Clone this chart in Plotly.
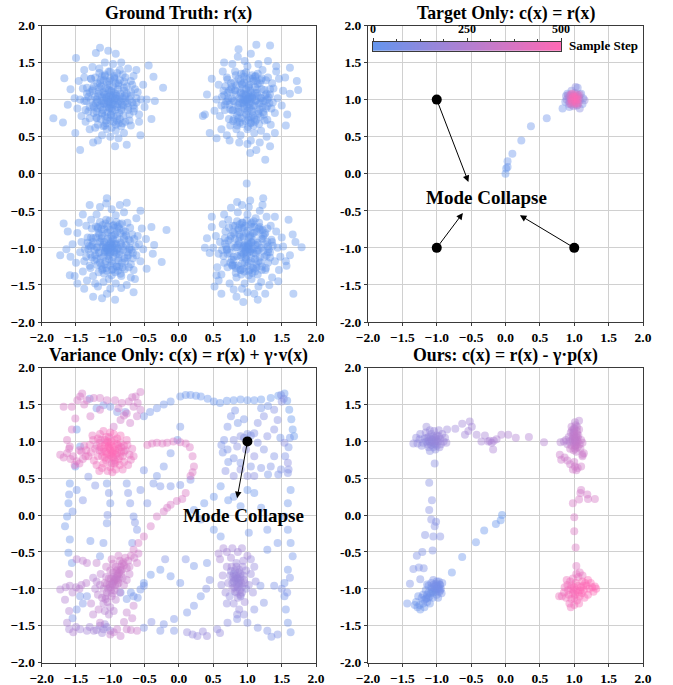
import plotly.graph_objects as go

# ---------------- Ground truth samples (x, y) ----------------
GT_TL = [(-1.00,1.00),(-0.92,1.08),(-1.10,0.95),(-0.85,0.97),(-1.05,1.15),(-0.97,0.85),(-1.18,1.05),(-0.80,1.12),(-1.12,0.82),(-0.90,0.78),
(-1.25,0.92),(-1.02,1.25),(-0.75,0.95),(-1.30,1.10),(-0.88,1.22),(-1.15,1.22),(-0.95,0.70),(-1.20,0.75),(-0.70,1.05),(-1.35,0.98),
(-1.08,0.65),(-0.82,0.68),(-0.65,0.88),(-1.28,1.28),(-0.78,1.30),(-1.00,1.38),(-1.40,1.15),(-0.60,1.10),(-1.22,0.62),(-0.92,0.58),
(-1.06,1.04),(-0.96,0.94),(-1.14,0.90),(-0.86,1.04),(-1.02,0.88),(-0.98,1.12),(-1.20,1.00),(-0.78,1.02),(-1.10,1.10),(-0.90,0.90),
(-1.04,0.76),(-0.84,0.86),(-1.16,1.16),(-0.94,1.30),(-1.32,0.84),(-0.72,0.80),(-1.24,1.18),(-0.68,1.20),(-1.08,1.32),(-0.86,1.40),
(-1.38,1.30),(-0.62,0.96),(-1.44,1.00),(-0.58,0.80),(-1.36,0.70),(-1.12,0.52),(-0.80,0.55),(-1.00,0.50),(-0.70,0.65),(-1.30,0.60),
(-1.16,1.42),(-0.96,1.48),(-1.26,1.44),(-0.74,1.42),(-0.66,1.32),(-1.48,0.88),(-1.42,0.78),(-0.55,1.00),(-0.52,1.20),(-0.58,0.70),
(-1.05,0.60),(-0.88,0.48),(-1.18,0.45),(-1.38,1.40),(-1.52,1.02),(-1.46,1.25),(-0.50,0.90),(-0.62,1.40),(-1.08,1.50),(-0.84,1.50),
(-1.83,0.75),(-1.69,0.69),(-1.44,0.32),(-1.67,1.29),(-1.50,1.56),(-0.23,1.16),(-0.37,1.31),(-0.93,0.37),(-0.76,0.39),(-1.15,1.70),
(-0.47,1.00),(-1.51,0.55),(-1.03,1.66),(-0.44,1.46),(-0.40,0.74),(-1.21,1.63),(-0.92,1.62),(-0.35,0.98),(-1.62,0.93),(-1.25,0.42),
(-0.56,0.52),(-1.58,1.14),(-1.01,0.97),(-0.93,1.02),(-1.09,1.07),(-0.89,0.94),(-1.13,0.98),(-0.99,0.79),(-0.81,0.92),(-1.19,0.88)]
GT_TL_CORE = [(-0.97,1.03),(-1.03,0.97),(-0.94,0.99),(-1.06,1.02),(-1.00,1.06),(-1.00,0.93),(-0.91,1.05),(-1.09,0.94),(-0.95,1.10),(-1.05,0.90),
(-0.88,0.98),(-1.12,1.03),(-0.98,0.88),(-1.02,1.13),(-0.85,1.08),(-1.15,0.92),(-0.93,0.86),(-1.07,1.16),(-0.83,0.93),(-1.17,1.08),
(-0.96,1.18),(-1.04,0.83),(-0.89,1.14),(-1.11,0.86),(-0.82,1.02),(-1.19,0.97),(-0.99,0.80),(-1.01,1.20),(-0.87,0.82),(-1.13,1.18),
(-0.78,0.97),(-1.22,1.04),(-0.92,1.22),(-1.08,0.78),(-0.80,1.16),(-1.20,0.84),(-0.95,0.76),(-1.05,1.24),(-0.76,1.08),(-1.24,0.90),
(-0.90,0.72),(-1.10,1.26),(-0.74,0.90),(-1.26,1.12),(-0.86,1.26),(-1.14,0.74),(-1.00,0.72),(-1.00,1.28),(-0.72,1.00),(-1.28,1.00),
(-0.98,0.96),(-1.02,1.04),(-0.96,1.06),(-1.04,0.94),(-0.93,0.93),(-1.07,1.07),(-0.90,1.01),(-1.10,0.99),(-0.99,1.11),(-1.01,0.89),
(-0.84,0.88),(-1.16,1.12),(-0.88,1.19),(-1.12,0.81),(-0.79,1.05),(-1.21,0.95),(-0.94,1.28),(-1.06,0.72),(-0.81,0.78),(-1.19,1.22)]
GT_TL_RING = [(-0.62,1.02),(-1.38,0.98),(-0.98,0.62),(-1.02,1.38),(-0.70,1.25),(-1.30,0.75),(-0.72,0.72),(-1.28,1.28),(-0.66,0.84),(-1.34,1.16),
(-0.84,0.64),(-1.16,1.36),(-0.82,1.34),(-1.18,0.66),(-0.64,1.14),(-1.36,0.86),(-0.90,1.36),(-1.10,0.64),(-0.76,1.18),(-1.24,0.82),
(-0.74,0.86),(-1.26,1.14),(-0.86,0.74),(-1.14,1.26),(-0.92,0.66),(-1.08,1.34),(-0.68,0.96),(-1.32,1.04),(-0.78,0.70),(-1.22,1.30),
(-0.80,1.24),(-1.20,0.76),(-0.70,1.10),(-1.30,0.90),(-0.88,0.68),(-1.12,1.32),(-0.94,1.32),(-1.06,0.68),(-0.66,0.92),(-1.34,1.08)]

GT_TR = [(1.00,1.00),(1.08,0.92),(0.94,1.08),(1.15,1.05),(0.88,0.95),(1.02,1.18),(0.96,0.82),(1.22,0.90),(0.82,1.12),(1.10,0.75),
(0.78,0.85),(1.28,1.08),(0.90,1.25),(1.18,1.22),(1.05,0.68),(0.72,1.02),(1.32,0.95),(0.85,0.70),(1.12,1.32),(0.95,1.35),
(0.68,1.18),(1.38,1.15),(1.25,0.72),(0.75,0.65),(1.00,0.60),(1.30,1.30),(0.70,1.30),(1.40,0.82),(0.62,0.92),(1.20,0.58),
(1.04,1.04),(0.94,0.96),(1.12,0.98),(0.90,1.10),(1.06,0.86),(0.98,1.14),(1.20,1.02),(0.80,0.98),(1.14,1.14),(0.86,0.84),
(1.02,0.76),(1.16,0.84),(0.92,1.20),(1.08,1.28),(0.76,1.14),(1.26,0.98),(0.84,0.60),(1.36,1.22),(0.66,1.06),(1.44,1.02),
(1.10,0.55),(0.90,0.52),(1.22,1.40),(0.82,1.38),(0.60,0.78),(1.46,1.28),(0.58,1.20),(1.00,1.45),(1.34,0.66),(0.70,0.52),
(0.96,1.52),(1.16,1.48),(0.78,1.48),(1.42,1.38),(1.50,0.92),(0.55,1.00),(1.05,0.45),(0.88,0.42),(1.28,0.50),(0.64,1.38),
(1.52,1.12),(0.52,0.85),(1.40,0.55),(1.18,0.42),(0.74,0.45),(1.30,1.52),(0.62,0.60),(1.55,1.30),(1.00,0.40),(0.86,1.58),
(0.41,1.07),(0.45,0.55),(0.55,0.48),(1.04,0.28),(1.13,0.32),(1.26,0.19),(1.33,0.37),(1.72,1.25),(1.74,1.13),(1.62,1.43),
(1.13,1.74),(1.33,1.73),(0.87,1.68),(0.38,0.80),(0.35,0.78),(1.58,0.80),(1.62,1.08),(1.42,1.45),(0.48,1.28),(1.05,1.62),
(0.66,1.50),(1.56,0.65),(0.99,0.97),(1.07,1.03),(0.91,1.01),(1.03,0.89),(0.97,1.07),(1.11,1.09),(0.87,0.89),(1.19,0.95)]
GT_TR_CORE = [(1.02,1.03),(0.97,0.98),(1.05,0.96),(0.94,1.04),(1.01,1.08),(0.99,0.91),(1.08,1.06),(0.92,0.95),(1.04,1.12),(0.96,0.88),
(1.12,0.99),(0.88,1.02),(1.00,0.85),(1.02,1.16),(1.14,1.09),(0.86,0.92),(1.07,0.84),(0.93,1.15),(1.17,0.94),(0.83,1.07),
(1.03,1.20),(0.98,0.80),(1.11,1.17),(0.89,0.83),(1.19,1.03),(0.81,0.97),(1.06,0.76),(0.95,1.23),(1.16,0.81),(0.84,1.19),
(1.23,0.98),(0.77,1.02),(1.09,1.25),(0.91,0.75),(1.21,1.14),(0.79,0.86),(1.01,0.73),(0.99,1.27),(1.26,1.06),(0.74,0.93),
(1.13,0.73),(0.87,1.28),(1.27,0.88),(0.73,1.12),(1.04,1.01),(0.96,1.00),(1.02,0.94),(0.98,1.06),(1.07,1.02),(0.93,0.99),
(1.05,1.09),(0.95,0.92),(1.10,0.92),(0.90,1.09),(1.00,1.00),(1.15,1.21),(0.85,0.79),(1.24,0.80),(0.76,1.22),(1.18,0.87),
(0.82,1.13),(1.08,0.79),(0.92,1.21),(1.29,1.00),(0.71,0.98),(1.03,1.29),(0.97,0.71),(1.20,1.26),(0.80,0.74),(1.11,0.70)]
GT_TR_RING = [(0.63,1.04),(1.37,0.96),(1.01,0.63),(0.98,1.37),(0.71,1.27),(1.29,0.73),(0.73,0.74),(1.27,1.26),(0.67,0.86),(1.33,1.14),
(0.85,0.65),(1.15,1.35),(0.83,1.33),(1.17,0.67),(0.65,1.12),(1.35,0.88),(0.91,1.35),(1.09,0.65),(0.77,1.17),(1.23,0.83),
(0.75,0.87),(1.25,1.13),(0.87,0.75),(1.13,1.25),(0.93,0.67),(1.07,1.33),(0.69,0.97),(1.31,1.03),(0.79,0.71),(1.21,1.29),
(0.81,1.23),(1.19,0.77),(0.71,1.09),(1.29,0.91),(0.89,0.69),(1.11,1.31),(0.95,1.31),(1.05,0.69),(0.67,0.93),(1.33,1.07)]

GT_BL = [(-1.00,-1.00),(-0.92,-0.94),(-1.08,-1.06),(-0.86,-1.05),(-1.15,-0.92),(-0.98,-1.18),(-1.05,-0.80),(-0.80,-0.88),(-1.22,-1.10),(-0.90,-1.25),
(-1.28,-0.86),(-0.72,-1.00),(-1.12,-1.30),(-0.96,-0.70),(-1.32,-1.02),(-0.78,-1.18),(-1.18,-0.72),(-0.68,-0.82),(-1.38,-1.18),(-0.84,-1.38),
(-1.06,-0.62),(-0.62,-1.10),(-1.25,-1.38),(-1.42,-0.92),(-0.75,-0.66),(-1.02,-1.42),(-1.35,-0.70),(-0.58,-0.95),(-0.66,-1.30),(-1.20,-0.55),
(-1.04,-1.04),(-0.94,-1.06),(-1.10,-0.96),(-0.96,-0.88),(-0.88,-1.14),(-1.14,-1.14),(-1.02,-0.90),(-0.82,-0.98),(-1.20,-1.00),(-0.98,-1.30),
(-1.08,-1.22),(-0.90,-0.78),(-1.26,-0.96),(-0.74,-1.10),(-1.16,-0.82),(-0.86,-0.68),(-1.30,-1.24),(-0.70,-1.22),(-1.44,-1.06),(-0.60,-0.84),
(-1.10,-1.46),(-0.92,-1.48),(-1.40,-1.32),(-1.48,-0.80),(-0.92,-0.56),(-1.28,-0.62),(-0.70,-1.40),(-0.56,-1.18),(-1.50,-1.20),(-0.80,-0.52),
(-1.15,-0.45),(-0.98,-0.48),(-1.34,-1.44),(-1.18,-1.52),(-0.84,-1.54),(-1.00,-1.55),(-0.52,-1.02),(-0.54,-0.74),(-1.55,-0.95),(-1.46,-0.66),
(-0.62,-0.60),(-0.64,-1.42),(-1.22,-1.48),(-1.52,-1.38),(-1.40,-0.55),(-0.48,-0.88),(-0.76,-1.50),(-1.06,-0.40),(-0.86,-0.42),(-1.58,-1.12),
(-1.73,-1.10),(-1.68,-0.67),(-1.59,-1.37),(-0.18,-0.76),(-0.25,-1.19),(-0.93,-1.70),(-1.25,-1.66),(-1.05,-0.33),(-0.76,-0.39),(-0.47,-1.28),
(-1.62,-0.78),(-1.30,-0.42),(-1.38,-1.55),(-0.36,-0.96),(-0.40,-0.72),(-0.66,-1.60),(-1.05,-1.62),(-0.38,-1.08),(-1.64,-1.02),(-1.12,-1.68),
(-0.56,-0.50),(-1.48,-1.48),(-0.99,-0.95),(-1.07,-1.01),(-0.91,-1.03),(-1.03,-1.11),(-0.95,-0.83),(-1.13,-0.87),(-0.85,-0.93),(-1.17,-1.07)]
GT_BL_CORE = [(-0.98,-1.02),(-1.03,-0.97),(-0.95,-1.05),(-1.06,-0.99),(-0.99,-0.92),(-1.01,-1.09),(-0.92,-0.96),(-1.08,-1.04),(-0.96,-1.12),(-1.04,-0.88),
(-0.89,-1.01),(-1.11,-0.98),(-1.02,-1.15),(-0.98,-0.84),(-0.86,-1.09),(-1.14,-0.91),(-0.93,-0.82),(-1.07,-1.18),(-0.84,-0.95),(-1.16,-1.06),
(-0.97,-1.21),(-1.03,-0.79),(-0.88,-1.17),(-1.12,-0.84),(-0.81,-1.03),(-1.19,-0.99),(-1.00,-0.76),(-1.00,-1.24),(-0.85,-0.80),(-1.15,-1.20),
(-0.77,-0.96),(-1.23,-1.03),(-0.91,-1.25),(-1.09,-0.75),(-0.79,-1.14),(-1.21,-0.86),(-0.94,-0.73),(-1.06,-1.27),(-0.75,-1.06),(-1.25,-0.92),
(-0.89,-0.71),(-1.11,-1.28),(-0.73,-0.89),(-1.27,-1.13),(-0.97,-0.97),(-1.03,-1.03),(-0.95,-0.94),(-1.05,-1.06),(-0.91,-1.08),(-1.09,-0.92),
(-1.00,-1.00),(-0.94,-1.00),(-1.06,-1.00),(-1.00,-0.94),(-1.00,-1.06),(-0.83,-1.20),(-1.17,-0.80),(-0.87,-0.74),(-1.13,-1.24),(-0.72,-1.02),
(-1.28,-0.98),(-0.96,-1.29),(-1.04,-0.71),(-0.80,-0.85),(-1.20,-1.15),(-0.90,-0.88),(-1.10,-1.12),(-0.82,-1.26),(-1.18,-0.74),(-0.78,-0.78)]
GT_BL_RING = [(-0.63,-0.98),(-1.37,-1.02),(-1.01,-0.63),(-0.98,-1.37),(-0.71,-0.73),(-1.29,-1.27),(-0.73,-1.26),(-1.27,-0.74),(-0.67,-1.14),(-1.33,-0.86),
(-0.85,-1.35),(-1.15,-0.65),(-0.83,-0.67),(-1.17,-1.33),(-0.65,-0.88),(-1.35,-1.12),(-0.91,-0.65),(-1.09,-1.35),(-0.77,-0.83),(-1.23,-1.17),
(-0.75,-1.13),(-1.25,-0.87),(-0.87,-1.25),(-1.13,-0.75),(-0.93,-1.33),(-1.07,-0.67),(-0.69,-1.03),(-1.31,-0.97),(-0.79,-1.29),(-1.21,-0.71),
(-0.81,-0.77),(-1.19,-1.23),(-0.71,-0.91),(-1.29,-1.09),(-0.89,-1.31),(-1.11,-0.69),(-0.95,-0.69),(-1.05,-1.31),(-0.67,-1.07),(-1.33,-0.93)]

GT_BR = [(1.00,-1.00),(1.06,-0.92),(0.94,-1.08),(1.14,-1.04),(0.86,-0.96),(1.02,-1.20),(0.98,-0.80),(1.22,-0.88),(0.80,-1.12),(1.10,-1.28),
(0.76,-0.84),(1.30,-1.06),(0.90,-1.30),(1.18,-0.72),(0.92,-0.66),(1.36,-0.92),(0.70,-1.02),(1.26,-1.30),(0.82,-0.70),(1.06,-1.42),
(0.66,-1.20),(1.40,-1.18),(1.12,-0.60),(0.72,-0.62),(0.96,-1.48),(1.34,-0.70),(0.60,-0.92),(1.20,-1.46),(0.62,-1.36),(1.00,-0.55),
(1.04,-1.04),(0.96,-0.96),(1.12,-0.96),(0.90,-1.10),(1.06,-1.14),(0.94,-0.86),(1.20,-1.00),(0.82,-1.00),(1.16,-1.18),(0.88,-0.82),
(1.02,-1.32),(1.10,-0.80),(0.78,-1.24),(1.26,-0.80),(0.84,-1.40),(1.30,-1.20),(0.68,-0.78),(1.44,-1.00),(1.06,-0.66),(0.58,-1.08),
(1.16,-1.52),(0.92,-1.55),(1.42,-0.78),(0.64,-0.68),(1.48,-1.12),(1.00,-1.60),(0.54,-0.84),(1.36,-1.40),(0.74,-1.48),(0.86,-0.52),
(1.18,-0.50),(1.02,-0.45),(0.56,-1.26),(1.50,-0.86),(1.28,-0.58),(1.46,-1.30),(0.50,-1.00),(0.66,-0.55),(1.10,-1.62),(0.80,-1.56),
(1.32,-1.50),(1.52,-0.98),(0.92,-0.42),(1.22,-0.42),(0.48,-0.72),(1.40,-0.58),(0.58,-1.44),(1.56,-1.18),(0.76,-0.46),(1.26,-1.62),
(0.45,-1.07),(0.41,-0.87),(0.55,-1.37),(0.99,-0.13),(1.23,-0.33),(1.67,-1.62),(1.79,-0.99),(0.94,-1.73),(0.84,-1.66),(1.57,-1.24),
(1.60,-0.62),(1.66,-0.82),(0.48,-0.58),(0.52,-1.52),(1.04,-0.36),(0.85,-0.38),(1.45,-1.45),(1.62,-1.10),(0.38,-1.00),(1.15,-1.70),
(1.70,-0.92),(0.62,-1.62),(1.01,-0.95),(0.93,-1.01),(1.09,-1.07),(0.97,-1.13),(1.05,-0.85),(0.87,-0.91),(1.15,-0.93),(0.95,-0.73)]
GT_BR_CORE = [(1.01,-0.98),(0.97,-1.03),(1.04,-1.05),(0.95,-0.97),(1.06,-0.93),(0.99,-1.10),(1.09,-1.01),(0.91,-1.06),(1.02,-0.86),(0.98,-1.15),
(1.12,-1.08),(0.88,-0.94),(1.05,-1.18),(0.94,-0.84),(1.15,-0.96),(0.85,-1.11),(1.08,-0.80),(0.92,-1.21),(1.18,-1.13),(0.82,-0.88),
(1.00,-0.77),(1.00,-1.24),(1.20,-0.87),(0.80,-1.16),(1.13,-1.22),(0.87,-0.76),(1.23,-1.04),(0.77,-0.98),(1.07,-0.72),(0.93,-1.28),
(1.25,-0.82),(0.75,-1.20),(1.17,-0.74),(0.83,-1.27),(1.28,-1.10),(0.72,-0.90),(1.03,-1.30),(0.97,-0.70),(1.21,-1.25),(0.79,-0.79),
(1.02,-1.02),(0.98,-0.98),(1.03,-0.95),(0.97,-1.05),(1.06,-1.02),(0.94,-0.99),(1.00,-1.06),(1.00,-0.93),(1.09,-0.90),(0.91,-1.12),
(1.11,-1.15),(0.89,-0.85),(1.16,-1.03),(0.84,-0.99),(1.04,-0.83),(0.96,-1.20),(1.26,-0.95),(0.74,-1.07),(1.14,-0.78),(0.86,-1.24),
(1.19,-1.20),(0.81,-0.81),(1.08,-1.27),(0.92,-0.73),(1.30,-0.98),(0.70,-1.03),(1.22,-0.76),(0.78,-1.23),(1.10,-0.71),(0.90,-1.30)]
GT_BR_RING = [(1.37,-0.97),(0.63,-1.03),(0.99,-0.63),(1.02,-1.37),(1.29,-0.74),(0.71,-1.26),(1.27,-1.27),(0.73,-0.73),(1.33,-1.13),(0.67,-0.87),
(1.15,-1.36),(0.85,-0.64),(1.17,-0.66),(0.83,-1.34),(1.35,-0.89),(0.65,-1.11),(1.09,-0.64),(0.91,-1.36),(1.23,-0.84),(0.77,-1.16),
(1.25,-1.12),(0.75,-0.88),(1.13,-1.26),(0.87,-0.74),(1.07,-1.34),(0.93,-0.66),(1.31,-1.02),(0.69,-0.98),(1.21,-1.30),(0.79,-0.70),
(1.19,-0.76),(0.81,-1.24),(1.29,-0.92),(0.71,-1.08),(1.11,-1.32),(0.89,-0.68),(1.05,-0.68),(0.95,-1.32),(1.33,-1.06),(0.67,-0.94)]

# ---------------- Target only: (x, y, sample step) ----------------
TGT_TRAIL = [(0.00,0.00,2),(0.01,0.07,5),(0.03,0.09,8),(0.03,0.17,12),(0.10,0.27,16),(0.23,0.45,20),(0.37,0.64,25),(0.60,0.75,30),(0.83,0.88,36)]
TGT_CLUSTER = [(0.87,0.97,45),(0.90,1.08,50),(1.10,1.08,55),(1.12,0.94,60),(0.93,0.90,70),(1.05,1.16,80),(0.88,1.05,90),(1.13,1.02,100),
(0.96,1.12,110),(1.08,0.88,120),(1.02,1.17,130),(0.92,0.94,140),(1.15,0.99,150),(0.89,1.00,160),
(1.00,1.00,400),(0.98,1.02,420),(1.02,0.98,440),(1.03,1.04,460),(0.97,0.97,480),(1.05,1.00,500),(0.95,1.01,380),(1.00,1.06,360),
(1.00,0.94,340),(1.06,0.95,320),(0.94,1.05,300),(1.04,1.07,280),(0.96,0.93,260),(1.07,1.03,240),(0.93,0.98,220),(1.01,1.09,210),
(0.99,0.91,200),(1.08,0.99,190),(0.92,1.03,180),(1.04,0.92,170),(0.97,1.08,450),(1.03,0.95,470),(0.99,1.04,490),(1.02,1.02,430),
(0.96,1.00,410),(1.06,1.06,390),(0.94,0.95,370),(1.05,0.93,350),(0.95,1.07,330),(1.01,0.97,310),(0.98,0.99,290),(1.03,1.01,270),
(1.08,1.07,250),(0.91,1.06,230)]
TGT_MODES = [(-1.0,1.0),(-1.0,-1.0),(1.0,-1.0)]
TGT_ARROW_HEADS = [(-0.54,-0.11),(-0.62,-0.53),(0.21,-0.56)]
TGT_TEXT_POS = (-0.28, -0.32)

# ---------------- Variance only: (x, y, sample step) ----------------
VAR_TOP_ARC = [(-0.51,1.34,40),(-0.42,1.40,37),(-0.32,1.45,34),(-0.22,1.50,31),(-0.12,1.54,28),(0.02,1.61,25),(0.10,1.63,23),(0.17,1.63,21),
(0.25,1.62,19),(0.32,1.61,17),(0.42,1.58,15),(0.51,1.54,13),(0.60,1.52,11),(0.70,1.55,10),(0.80,1.56,9),(0.90,1.57,8),(1.00,1.56,7),
(1.10,1.56,6),(1.20,1.57,5),(1.34,1.59,5),(1.45,1.62,4),(1.54,1.65,3),(1.58,1.55,3),(1.61,1.43,2),(1.64,1.30,2),(1.66,1.16,1),(1.68,1.07,1)]
VAR_UR_LOOPS = [(0.76,1.34,60),(0.71,1.20,62),(0.66,1.02,64),(0.71,0.89,66),(0.80,0.77,68),(0.90,0.71,70),(1.05,0.66,72),(1.20,0.64,74),
(1.34,0.66,76),(1.49,0.62,78),(1.59,0.57,80),(1.39,0.80,82),(1.24,0.89,84),(1.15,0.98,86),(1.10,1.11,88),(1.15,1.25,90),(1.24,1.34,92),
(1.39,1.43,94),(1.44,1.29,96),(1.39,1.16,98),(1.29,1.07,100),(0.90,1.07,102),(0.80,1.02,104),(0.85,0.93,106),(1.00,0.53,108),(1.10,0.53,110),
(0.80,0.53,112),(1.59,0.71,114),(1.54,0.98,116),(1.10,0.80,118),(0.98,0.89,120),(1.49,1.63,80),(1.53,1.58,90),(1.50,1.54,100),(0.95,1.05,95),
(1.00,1.10,85),(1.05,1.08,75),(0.62,0.95,65),(0.64,0.85,55),(0.72,0.72,50),(1.30,0.55,45),(1.45,0.55,60),(1.55,0.80,70),(1.60,0.92,50),
(1.48,1.05,40),(0.86,1.25,45),(0.95,1.30,50),(0.82,1.42,55),(1.20,1.45,35),(1.30,1.48,40),(1.60,0.62,90),(1.62,1.05,30),(0.68,0.60,100),(0.90,0.62,110)]
VAR_RIGHT = [(1.63,0.34,20),(1.59,0.16,22),(1.54,-0.02,24),(1.59,-0.20,26),(1.63,-0.38,28),(1.66,-0.56,30),(1.59,-0.74,32),(1.54,-0.92,34),
(1.54,-1.10,36),(1.56,-1.28,38),(1.59,-1.46,40),(1.63,-1.59,42),(1.62,-0.85,60),(1.50,-1.00,70),(1.58,-1.05,65)]
VAR_MID = [(1.00,0.34,10),(0.80,0.25,12),(0.90,0.12,14),(0.61,0.39,16),(0.51,0.25,18),(0.37,0.16,20),(0.22,0.07,22),(0.32,-0.06,24),
(0.51,-0.20,26),(0.61,-0.29,28),(1.02,-0.24,30),(1.29,-0.20,32),(1.44,-0.38,34),(1.29,-0.47,36),(0.02,1.20,40),(-0.02,1.02,42),
(-0.12,0.84,44),(-0.22,0.66,46),(-0.32,0.53,48),(-0.37,0.43,50),(-0.27,0.39,52),(-0.12,0.39,54),(0.02,0.41,56),(0.17,0.48,58),
(0.72,0.20,15),(1.10,0.30,20),(1.20,0.10,25)]
VAR_LEFT = [(-1.49,1.16,10),(-1.44,0.93,12),(-1.51,0.66,14),(-1.59,0.43,16),(-1.61,0.16,18),(-1.63,-0.02,20),(-1.66,-0.15,22),(-1.59,-0.33,24),
(-1.61,-0.51,26),(-1.56,-0.65,28),(-1.49,0.34,30),(-1.29,-0.35,32),(-1.60,0.28,34),(-1.55,0.05,36),(-1.05,0.43,40),(-1.00,0.16,42),
(-1.05,-0.11,44),(-1.10,-0.38,46),(-1.15,-0.56,48),(-0.76,0.43,50),(-0.71,0.16,52),(-0.66,-0.02,54),(-0.61,-0.20,56),(-0.68,-0.38,58),
(-0.51,0.61,60),(-0.56,0.34,62),(-0.46,0.16,64),(-1.02,0.30,66),(-1.04,0.00,68),(-0.74,0.30,70),(-0.64,-0.10,72),(-1.32,0.52,74),
(-1.22,0.40,76),(-1.40,0.20,78)]
VAR_LOW_MID = [(-0.51,-0.92,20),(-0.41,-0.81,24),(-0.27,-0.74,28),(-0.12,-0.83,32),(0.02,-0.92,36),(0.22,-0.69,40),(0.41,-0.65,44),
(0.32,-1.10,48),(0.22,-1.23,52),(0.12,-1.32,56),(-0.07,-1.41,60),(-0.22,-1.48,64),(-0.07,-1.57,68),(-0.27,-1.57,72),(-0.51,-1.53,76),
(0.10,-0.60,80),(-0.20,-0.60,84),(0.40,-1.00,88),(0.45,-0.88,92),(-0.40,-1.45,96)]
VAR_BOTTOM = [(0.12,-1.59,150),(0.27,-1.64,160),(0.41,-1.64,165),(0.56,-1.55,140),(0.71,-1.46,120),(0.85,-1.41,100),(1.00,-1.46,90),
(1.15,-1.53,85),(1.29,-1.57,80),(1.44,-1.62,75),(0.90,-1.10,110),(1.19,-0.96,70),(1.39,-0.96,65),(1.10,-1.28,95),(1.24,-1.19,85),
(0.20,-1.62,155),(0.35,-1.58,160),(0.60,-1.60,145),(1.35,-1.65,70)]
VAR_BL_BLUE = [(-0.66,-1.10,40),(-0.56,-1.01,42),(-0.76,-1.14,44),(-0.85,-1.05,46),(-0.51,-0.96,48),(-1.44,-1.10,50),(-1.34,-1.10,52),
(-1.49,-1.28,54),(-0.70,-1.05,30),(-0.60,-1.12,35),(-1.55,-1.40,60),(-1.40,-1.20,58)]
VAR_TL_BLUE = [(-1.10,1.49,60),(-1.00,1.47,65),(-0.90,1.40,70),(-1.20,1.45,55),(-0.78,1.40,75),(-1.30,1.58,50)]
VAR_BR_CLUSTER = [(0.85,-0.85,170),(0.90,-0.80,175),(0.80,-0.90,180),(0.88,-0.95,165),(0.82,-0.75,160),(0.95,-0.88,185),(0.78,-1.00,190),
(0.92,-1.05,172),(0.75,-0.82,168),(0.98,-0.75,178),(0.86,-1.12,182),(0.72,-0.92,176),(1.02,-0.95,166),(0.84,-0.65,174),(0.94,-0.62,188),
(0.70,-0.70,192),(0.80,-1.20,158),(1.05,-0.80,162),(0.68,-1.05,170),(0.96,-1.18,184),(0.88,-1.28,150),(0.76,-0.58,196),(1.00,-0.55,200),
(0.64,-0.82,186),(1.08,-1.05,154),(0.86,-0.50,198),(0.70,-0.50,205),(0.60,-0.60,210),(0.58,-0.52,215),(0.65,-0.45,208),(0.78,-0.45,202),
(0.92,-0.45,195),(1.05,-0.60,160),(1.10,-0.70,150),(0.83,-0.88,171),(0.87,-0.78,173),(0.81,-0.98,177),(0.91,-0.92,179),(0.79,-0.84,181),
(0.89,-1.02,183),(0.84,-1.05,185),(0.93,-0.70,187),(0.77,-0.70,189),(0.74,-1.10,140),(0.98,-1.00,145),(1.12,-0.90,135),(0.62,-0.95,150),
(0.85,-1.35,130),(0.95,-1.35,128),(0.70,-1.20,138),
(0.86,-0.86,171),(0.83,-0.82,169),(0.89,-0.88,173),(0.84,-0.94,175),(0.90,-0.84,177),(0.81,-0.86,167),(0.87,-0.92,179),(0.92,-0.98,181),
(0.80,-0.80,165),(0.86,-0.98,183),(0.94,-0.82,185),(0.78,-0.92,163),(0.88,-0.74,187),(0.82,-1.04,161),(0.90,-1.08,189),(0.96,-0.92,191),
(0.76,-0.76,159),(0.84,-0.70,193)]
VAR_BL_CLUSTER = [(-0.95,-0.90,300),(-0.90,-0.82,305),(-1.00,-0.98,310),(-0.88,-0.92,315),(-1.02,-0.86,320),(-0.85,-0.75,325),(-0.92,-0.70,330),
(-1.05,-1.05,295),(-0.98,-1.10,290),(-1.10,-1.00,285),(-0.80,-0.68,335),(-0.82,-0.85,302),(-0.96,-0.78,308),(-1.08,-0.92,312),(-0.86,-0.62,340),
(-0.78,-0.58,345),(-1.12,-1.12,280),(-1.04,-1.18,275),(-0.94,-1.02,298),(-0.90,-0.95,304),(-0.76,-0.72,318),(-0.74,-0.62,328),(-1.15,-0.95,270),
(-1.00,-0.75,322),(-0.84,-0.80,316),(-0.93,-0.86,306),(-0.97,-0.94,296),(-1.06,-0.84,292),(-0.89,-0.74,326),(-0.83,-0.66,332),(-1.10,-1.20,265),
(-1.18,-1.08,268),(-0.72,-0.80,310),(-0.80,-0.95,300),(-1.00,-1.25,260),(-0.92,-1.15,282),(-1.20,-0.90,262),(-0.70,-0.55,350),(-0.88,-0.55,338),
(-1.06,-0.70,314),(-0.76,-0.88,306),(-1.14,-0.80,288),(-0.96,-0.66,334),(-1.02,-1.35,255),(-0.95,-1.30,258),(-1.08,-1.30,252),(-0.86,-1.05,294),
(-1.22,-1.00,250),(-1.25,-0.85,248),(-0.98,-0.60,342),
(-0.94,-0.88,303),(-0.91,-0.86,307),(-0.97,-0.92,311),(-0.89,-0.80,317),(-1.01,-0.94,297),(-0.87,-0.78,321),(-0.99,-1.02,293),(-0.93,-0.96,299),
(-0.85,-0.70,327),(-1.03,-1.00,289),(-0.95,-0.84,309),(-0.89,-0.88,313),(-1.05,-0.94,287),(-0.83,-0.74,323),(-0.97,-1.06,283),(-0.91,-0.76,319),
(-1.07,-1.10,279),(-0.81,-0.64,337),(-0.99,-0.86,301),(-0.87,-0.86,305)]
VAR_BL_TRAIL = [(-1.73,-1.01,250),(-1.65,-0.98,255),(-1.59,-0.96,260),(-1.50,-0.98,265),(-1.42,-0.95,270),(-1.35,-0.92,275),(-1.49,-0.60,280),
(-1.40,-0.62,285),(-1.34,-0.65,290),(-1.20,-0.65,295),(-1.63,-1.46,240),(-1.54,-1.59,245),(-1.15,-1.46,300),(-0.95,-1.59,305),(-0.85,-1.64,310),
(-0.76,-1.55,315),(-0.61,-1.57,320),(-1.07,-1.14,285),(-1.17,-1.28,290),(-0.76,-1.32,300),(-0.66,-1.23,305),(-0.61,-0.65,330),(-0.59,-0.52,335),
(-0.70,-1.56,312),(-0.90,-1.55,308),(-1.00,-1.62,302),(-0.80,-1.45,298),(-1.60,-0.80,262),(-1.66,-1.15,248),(-1.60,-1.30,244),(-1.28,-1.20,278),
(-1.25,-1.35,282),(-0.68,-1.40,306),(-0.72,-0.70,325),(-0.65,-0.58,332),(-1.45,-1.00,268),(-1.55,-1.05,258)]
VAR_LAV_BOTTOM = [(-1.10,-1.55,180),(-1.15,-1.50,185),(-1.05,-1.52,175),(-1.12,-1.60,190),(-1.00,-1.57,170),(-1.20,-1.56,195),(-1.44,-1.55,200),
(-1.34,-1.57,205),(-1.24,-1.57,210),(-1.30,-1.52,200),(-1.50,-1.52,215),(-1.60,-1.55,220),(-1.08,-1.48,178)]
VAR_DIAG = [(-0.46,0.95,400),(-0.39,0.97,398),(-0.32,0.98,396),(-0.24,0.97,394),(-0.17,0.98,392),(-0.08,1.00,390),(0.02,0.99,388),(0.10,0.97,386),
(0.16,0.92,384),(0.20,0.80,382),(0.22,0.66,380),(0.20,0.58,378),(0.17,0.53,376),(0.10,0.30,374),(0.05,0.22,372),(-0.03,0.19,370),
(-0.12,0.14,368),(-0.17,0.10,366),(-0.22,0.05,364),(-0.32,-0.02,362),(-0.41,-0.15,360),(-0.51,-0.29,358),(-0.59,-0.38,356),(-0.66,-0.47,354)]
VAR_TL_TRAIL = [(-1.73,0.82,380),(-1.68,0.78,382),(-1.63,0.84,384),(-1.58,0.76,386),(-1.54,0.80,388),(-1.49,0.73,390),(-1.52,0.68,392),
(-1.45,0.70,394),(-1.40,0.76,396),(-1.59,0.93,378),(-1.63,1.02,376),(-1.60,0.90,374),(-1.56,1.16,372),(-1.51,1.31,370),(-1.56,1.47,368),
(-1.68,1.47,366),(-1.44,1.61,364),(-1.41,1.65,362),(-1.34,1.56,360),(-1.24,1.59,358),(-1.15,1.59,356),(-1.05,1.56,354),(-0.93,1.56,352),
(-0.83,1.52,350),(-0.73,1.54,348),(-0.63,1.61,346),(-0.56,1.67,344),(-0.66,1.47,342),(-0.76,1.38,340),(-0.85,1.29,338),(-0.95,1.20,336),
(-0.71,1.25,334),(-0.61,1.34,332),(-0.56,1.43,330),(-1.15,1.43,360),(-1.29,1.34,365),(-1.38,1.50,362),(-1.48,1.56,366),(-0.88,1.45,345),
(-0.80,1.35,340),(-1.42,0.86,398),(-1.36,0.80,400),(-1.38,0.94,402),(-1.45,0.88,404),(-0.60,1.52,346),(-0.68,1.60,348)]
VAR_TL_CLUSTER = [(-1.00,0.88,480),(-0.95,0.92,485),(-1.05,0.84,490),(-0.92,0.82,470),(-1.08,0.95,495),(-0.98,1.00,500),(-1.12,0.86,475),
(-0.88,0.90,465),(-1.02,0.76,460),(-0.94,0.74,455),(-1.15,0.98,450),(-0.85,0.98,445),(-1.18,0.80,440),(-0.82,0.80,435),(-1.06,1.06,488),
(-0.90,1.04,482),(-1.22,0.90,430),(-0.78,0.88,425),(-1.10,0.70,468),(-0.86,0.68,462),(-1.25,1.02,428),(-0.75,0.95,432),(-1.00,0.65,458),
(-1.15,1.10,442),(-0.95,1.10,478),(-0.80,0.72,436),(-1.28,0.85,424),(-0.72,0.82,426),(-1.20,0.68,438),(-0.92,0.62,452),(-1.04,0.60,448),
(-1.30,0.95,422),(-0.70,0.75,420),(-1.10,1.14,444),(-0.85,1.08,466),(-1.24,0.74,434),(-0.76,1.02,440),(-0.98,0.80,492),(-1.02,0.94,498),
(-0.96,0.86,496),(-1.08,0.78,486),(-0.90,0.96,494),(-1.14,0.92,476),(-0.84,0.86,472),(-1.04,1.00,499),(-0.94,0.70,464),(-1.18,1.04,454),
(-0.80,0.94,456),(-1.12,0.64,446),(-0.88,0.76,474),(-1.32,0.80,418),(-0.68,0.90,416),(-1.00,1.12,470),(-1.26,1.08,426),(-0.74,0.68,430),
(-0.66,0.80,414),(-1.35,0.88,412),(-0.97,0.58,440),(-1.16,0.60,436),(-0.82,0.62,438),
(-1.00,0.90,497),(-0.97,0.84,493),(-1.03,0.92,489),(-0.93,0.88,481),(-1.07,0.86,477),(-0.99,0.96,473),(-1.01,0.82,469),(-0.90,0.84,461),
(-1.10,0.90,457),(-0.96,0.78,453),(-1.04,0.98,449),(-0.88,0.94,445),(-1.12,0.80,441),(-0.94,1.02,437),(-1.06,0.74,433),(-0.86,0.80,429),
(-1.14,1.02,425),(-0.92,0.72,421),(-1.08,1.02,417),(-0.84,0.92,413),(-1.16,0.88,411),(-0.98,0.70,409),(-1.02,1.06,407),(-0.80,0.86,405),(-1.20,0.94,403)]
VAR_MODE = (1.0, 1.0)
VAR_ARROW_HEAD = (0.85, 0.23)
VAR_TEXT_POS = (0.94, 0.0)

# ---------------- Ours: (x, y, sample step) ----------------
OURS_DIAG = [(-0.05,0.00,2),(-0.07,-0.07,5),(-0.14,-0.12,8),(-0.31,-0.21,11),(-0.43,-0.37,14),(-0.63,-0.57,17),(-0.78,-0.78,20)]
OURS_BL = [(-1.02,-1.02,40),(-1.05,-1.05,42),(-0.98,-0.98,44),(-1.00,-1.08,46),(-1.08,-0.98,48),(-0.95,-0.95,50),(-1.10,-1.10,38),
(-1.12,-1.05,36),(-0.96,-1.04,52),(-1.04,-0.94,54),(-1.15,-1.12,34),(-1.18,-1.15,32),(-0.92,-0.92,56),(-1.00,-0.90,58),(-1.06,-1.12,30),
(-1.20,-1.20,28),(-1.25,-1.22,26),(-1.28,-1.25,24),(-1.22,-1.12,30),(-1.14,-1.18,34),(-0.94,-1.00,60),(-1.08,-0.92,62),(-1.16,-1.02,40),
(-0.98,-1.12,44),(-1.30,-1.18,22),(-1.24,-1.28,24),(-1.18,-1.25,26),(-1.10,-1.20,28),(-1.02,-0.96,64),(-0.97,-0.90,66),(-1.12,-0.96,50),
(-0.93,-1.06,54),(-1.05,-0.88,68),(-1.20,-1.08,36),(-1.32,-1.22,25),(-1.43,-1.20,30),(-1.39,-0.93,70),(-1.24,-0.87,72),(-1.14,-0.94,46),(-1.27,-1.10,32),
(-1.03,-1.01,47),(-1.00,-1.00,49),(-1.06,-1.04,41),(-0.99,-0.96,53),(-1.09,-1.06,39),(-1.01,-1.04,45),(-0.97,-1.00,51),(-1.07,-1.00,43),
(-1.12,-1.12,35),(-1.04,-0.98,57),(-0.96,-0.94,59),(-1.14,-1.08,33),(-1.16,-1.14,31),(-0.95,-1.02,55),(-1.01,-0.93,61)]
OURS_UP = [(-1.34,-0.73,74),(-1.26,-0.71,76),(-1.19,-0.72,78),(-1.29,-0.55,80),(-1.21,-0.50,82),(-1.06,-0.48,84),(-1.17,-0.27,86),(-1.05,-0.29,88),
(-0.95,-0.29,90),(-1.03,-0.15,92),(-1.01,-0.09,94),(-1.08,-0.06,96),(-1.11,0.07,98),(-1.07,0.20,100),(-1.11,0.44,104),(-1.03,0.70,108)]
OURS_TL = [(-1.07,1.02,150),(-1.02,1.05,155),(-1.10,0.98,145),(-1.04,0.97,140),(-1.12,1.06,160),(-0.98,1.00,165),(-1.00,1.08,170),(-1.15,1.00,135),
(-1.08,1.10,158),(-0.95,1.04,172),(-1.18,1.04,130),(-1.05,0.92,125),(-0.94,0.96,168),(-1.12,0.92,128),(-1.20,0.98,132),(-1.00,0.94,146),
(-1.10,1.15,162),(-1.04,1.14,166),(-0.92,1.10,176),(-1.25,1.03,138),(-1.30,1.05,142),(-1.28,0.97,136),(-1.34,0.97,134),(-1.22,0.94,126),
(-0.90,1.00,174),(-0.88,1.05,178),(-1.10,0.87,120),(-1.15,1.20,164),(-0.97,1.15,168),(-1.06,1.00,152),(-1.01,1.01,156),(-1.09,1.04,148),
(-1.13,0.96,144),(-0.96,0.92,150),(-1.24,1.10,140),(-1.16,1.12,158),(-0.86,0.98,180),(-1.02,0.89,122),
(-1.06,1.03,153),(-1.03,1.00,157),(-1.09,1.00,147),(-1.00,1.03,163),(-1.12,1.01,143),(-1.05,1.07,159),(-1.02,0.96,141),(-0.97,1.07,171),
(-1.14,1.05,149),(-1.08,0.95,137)]
OURS_TOP = [(-0.85,1.16,182),(-0.73,1.17,186),(-0.63,1.24,190),(-0.59,1.09,194),(-0.52,1.27,198),(-0.49,1.20,202),(-0.54,1.14,206),
(-0.42,1.09,210),(-0.30,1.08,214),(-0.35,1.00,218),(-0.25,1.00,222),(-0.20,0.98,226),(-0.18,0.89,228),(-0.13,1.03,232),(-0.06,1.09,236),
(0.04,1.09,240),(0.15,1.05,244),(0.34,1.06,248),(0.56,0.99,252),(-0.17,1.01,230),(-0.23,1.01,224)]
OURS_TR = [(1.01,1.02,290),(1.03,1.06,295),(0.99,0.98,285),(1.02,0.94,280),(1.05,1.00,300),(0.98,1.08,292),(1.00,1.12,288),(1.04,1.14,298),
(0.97,1.02,282),(1.06,1.08,302),(1.01,0.90,305),(1.03,0.86,310),(0.96,0.94,276),(1.08,0.96,306),(1.00,1.18,272),(1.02,1.22,268),
(0.95,1.12,270),(1.07,1.16,296),(1.10,1.02,308),(0.93,1.00,266),(0.99,0.88,312),(1.05,0.92,314),(0.97,1.15,274),(1.04,1.20,278),
(1.12,0.98,316),(0.92,1.06,264),(1.01,1.26,262),(1.07,1.28,260),(0.94,0.90,318),(1.09,0.90,320),(0.90,0.96,262),(0.88,1.02,258),
(0.85,1.00,256),(0.80,0.99,255),(1.14,0.84,322),(1.12,0.80,324),(0.96,1.20,276),(1.03,1.03,294),(1.00,1.05,290),(1.02,0.99,286),
(1.01,1.04,291),(1.02,1.00,287),(1.00,1.08,289),(1.03,0.96,283),(0.99,1.12,271),(1.04,1.10,297),(1.01,0.94,309),(0.98,1.04,279),
(1.05,1.05,301),(1.00,1.16,269)]
OURS_TR_BELOW = [(0.79,0.82,326),(0.81,0.75,328),(0.86,0.78,330),(0.94,0.69,332),(1.01,0.66,334),(1.03,0.61,336),(1.10,0.66,338),
(1.12,0.82,330),(0.90,0.74,332),(1.00,0.72,334),(1.05,0.64,336),(0.98,0.62,338)]
OURS_DOWN = [(1.10,0.34,345),(1.09,0.30,348),(1.19,0.28,351),(1.20,0.22,354),(1.30,0.22,357),(1.07,0.21,360),(0.98,0.16,363),
(1.00,-0.03,368),(1.00,-0.22,374),(1.02,-0.44,380),(1.03,-0.69,390)]
OURS_BR = [(1.03,-1.02,480),(1.00,-0.98,485),(1.06,-1.05,490),(0.98,-1.06,475),(1.10,-0.98,495),(0.95,-1.00,470),(1.08,-1.10,488),
(1.02,-0.92,478),(1.14,-1.02,498),(0.92,-1.08,465),(1.18,-0.96,496),(0.96,-1.14,460),(1.04,-1.16,472),(1.12,-0.90,482),(0.90,-0.95,455),
(1.22,-1.00,500),(0.88,-1.12,450),(1.26,-0.98,494),(1.30,-0.97,492),(1.20,-1.08,486),(0.85,-1.05,445),(0.82,-1.10,440),(0.78,-1.10,435),
(1.00,-1.22,458),(0.93,-1.20,452),(1.06,-0.84,420),(1.03,-0.80,415),(1.08,-0.78,410),(1.12,-0.82,425),(0.98,-0.86,430),(1.16,-0.92,484),
(1.24,-0.92,490),(1.15,-1.12,476),(0.94,-0.90,448),(1.05,-0.96,481),(1.01,-1.08,474),(0.99,-1.02,477),(1.09,-1.02,489),(0.96,-0.96,462),
(1.11,-1.06,487),(0.91,-1.02,457),(1.28,-1.04,493),(0.86,-0.98,442),(0.95,-1.25,447),(1.07,-1.20,468),(1.00,-1.12,466),(1.13,-0.96,491),
(0.89,-0.88,438),(1.20,-0.88,483),(1.32,-1.00,497)]

# ---------------- Text / ticks ----------------
TICK_VALS = [-2.0, -1.5, -1.0, -0.5, 0.0, 0.5, 1.0, 1.5, 2.0]
TICK_TEXT_MINUS = ["\u22122.0", "\u22121.5", "\u22121.0", "\u22120.5", "0.0", "0.5", "1.0", "1.5", "2.0"]
TICK_TEXT_HYPHEN = ["-2.0", "-1.5", "-1.0", "-0.5", "0.0", "0.5", "1.0", "1.5", "2.0"]
TITLES = ["Ground Truth: r(x)", "Target Only: c(x) = r(x)",
          "Variance Only: c(x) = r(x) + \u03b3\u00b7v(x)", "Ours: c(x) = r(x) - \u03b3\u00b7p(x)"]
ANNOT_TEXT = "Mode Collapse"
CBAR_STEPS = list(range(0, 501, 5))
CBAR_TICKVALS = [0, 250, 500]
CBAR_TITLE = "Sample Step"

FONT = "Liberation Serif"
BLUE = "#6495ED"
PINK = "#FF69B4"
SCALE = [[0, BLUE], [1, PINK]]
FRAME = "#3a3a3a"

W, H = 673, 685

def px_x(p):
    return p / W

def px_y(p):
    return 1 - p / H

fig = go.Figure()

def split(pts):
    return [p[0] for p in pts], [p[1] for p in pts]

def split3(pts):
    pts = sorted(pts, key=lambda p: p[2])
    return [p[0] for p in pts], [p[1] for p in pts], [p[2] for p in pts]

gx, gy = split(GT_TL + GT_TR + GT_BL + GT_BR + GT_TL_RING + GT_TR_RING + GT_BL_RING + GT_BR_RING +
               GT_TL_CORE + GT_TR_CORE + GT_BL_CORE + GT_BR_CORE)
fig.add_trace(go.Scatter(x=gx, y=gy, mode="markers", xaxis="x", yaxis="y",
                         marker=dict(size=8, color=BLUE, opacity=0.42, line=dict(width=0)),
                         showlegend=False, hoverinfo="skip"))

def colored(pts, xa, ya):
    x, y, s = split3(pts)
    fig.add_trace(go.Scatter(x=x, y=y, mode="markers", xaxis=xa, yaxis=ya,
                             marker=dict(size=8, color=s, coloraxis="coloraxis", opacity=0.42, line=dict(width=0)),
                             showlegend=False, hoverinfo="skip"))

colored(TGT_TRAIL + TGT_CLUSTER, "x2", "y2")
colored(VAR_TOP_ARC + VAR_UR_LOOPS + VAR_RIGHT + VAR_MID + VAR_LEFT + VAR_LOW_MID + VAR_BOTTOM + VAR_BL_BLUE +
        VAR_TL_BLUE + VAR_BR_CLUSTER + VAR_BL_CLUSTER + VAR_BL_TRAIL + VAR_LAV_BOTTOM + VAR_DIAG + VAR_TL_TRAIL +
        VAR_TL_CLUSTER, "x3", "y3")
colored(OURS_DIAG + OURS_BL + OURS_UP + OURS_TL + OURS_TOP + OURS_TR + OURS_TR_BELOW + OURS_DOWN + OURS_BR, "x4", "y4")

mx, my = split(TGT_MODES)
fig.add_trace(go.Scatter(x=mx, y=my, mode="markers", xaxis="x2", yaxis="y2",
                         marker=dict(size=10, color="black"), showlegend=False, hoverinfo="skip"))
fig.add_trace(go.Scatter(x=[VAR_MODE[0]], y=[VAR_MODE[1]], mode="markers", xaxis="x3", yaxis="y3",
                         marker=dict(size=10, color="black"), showlegend=False, hoverinfo="skip"))

# colour bar drawn as a small heatmap on its own axes
fig.add_trace(go.Heatmap(z=[CBAR_STEPS], x=CBAR_STEPS, y=[0], coloraxis="coloraxis",
                         xaxis="x5", yaxis="y5", hoverinfo="skip"))

XD = [[px_x(41.7), px_x(316)], [px_x(368), px_x(643)]]
YD = [[px_y(322), px_y(25.5)], [px_y(662.5), px_y(367.7)]]

def axis(dom, anchor, ticktext):
    return dict(domain=dom, anchor=anchor, range=[-2, 2], tickvals=TICK_VALS, ticktext=ticktext,
                showgrid=True, gridcolor="#d0d0d0", gridwidth=1, zeroline=False,
                showline=True, linecolor=FRAME, linewidth=1, mirror=True,
                ticks="outside", ticklen=3, tickcolor=FRAME, automargin=False,
                tickfont=dict(family=FONT, size=13.5, color="black", weight="bold"))

fig.update_layout(
    width=W, height=H, margin=dict(l=0, r=0, t=0, b=0, autoexpand=False),
    paper_bgcolor="white", plot_bgcolor="white",
    xaxis=axis(XD[0], "y", TICK_TEXT_MINUS), yaxis=axis(YD[0], "x", TICK_TEXT_MINUS),
    xaxis2=axis(XD[1], "y2", TICK_TEXT_MINUS), yaxis2=axis(YD[0], "x2", TICK_TEXT_HYPHEN),
    xaxis3=axis(XD[0], "y3", TICK_TEXT_MINUS), yaxis3=axis(YD[1], "x3", TICK_TEXT_MINUS),
    xaxis4=axis(XD[1], "y4", TICK_TEXT_MINUS), yaxis4=axis(YD[1], "x4", TICK_TEXT_HYPHEN),
    xaxis5=dict(domain=[px_x(373), px_x(561)], anchor="y5", range=[0, 500], side="top",
                tickvals=CBAR_TICKVALS, ticks="outside", ticklen=3, tickcolor=FRAME,
                minor=dict(dtick=62.5, tick0=0, ticks="outside", ticklen=2, tickcolor=FRAME, showgrid=False),
                showgrid=False, zeroline=False, showline=True, linecolor=FRAME, linewidth=1, mirror=True,
                tickfont=dict(family=FONT, size=12, color="black", weight="bold")),
    yaxis5=dict(domain=[px_y(51), px_y(41.7)], anchor="x5", range=[-0.5, 0.5], showticklabels=False, ticks="",
                showgrid=False, zeroline=False, showline=True, linecolor=FRAME, linewidth=1, mirror=True),
    coloraxis=dict(colorscale=SCALE, cmin=0, cmax=500, showscale=False),
)

anns = []
title_pos = [(sum(XD[0]) / 2, px_y(13.5)), (sum(XD[1]) / 2, px_y(13.5)),
             (sum(XD[0]) / 2, px_y(355.5)), (sum(XD[1]) / 2, px_y(355.5))]
for (cx, cy), t in zip(title_pos, TITLES):
    anns.append(dict(x=cx, y=cy, xref="paper", yref="paper", xanchor="center", yanchor="middle",
                     text="<b>%s</b>" % t, showarrow=False, font=dict(family=FONT, size=17.8, color="black")))

for (tx, ty), (hx, hy) in zip(TGT_MODES, TGT_ARROW_HEADS):
    anns.append(dict(x=hx, y=hy, ax=tx, ay=ty, xref="x2", yref="y2", axref="x2", ayref="y2", text="",
                     showarrow=True, arrowhead=2, arrowsize=1.3, arrowwidth=1, arrowcolor="black", standoff=0))
anns.append(dict(x=TGT_TEXT_POS[0], y=TGT_TEXT_POS[1], xref="x2", yref="y2", text="<b>%s</b>" % ANNOT_TEXT,
                 showarrow=False, font=dict(family=FONT, size=19, color="black")))
anns.append(dict(x=VAR_ARROW_HEAD[0], y=VAR_ARROW_HEAD[1], ax=VAR_MODE[0], ay=VAR_MODE[1], xref="x3", yref="y3",
                 axref="x3", ayref="y3", text="", showarrow=True, arrowhead=2, arrowsize=1.3, arrowwidth=1,
                 arrowcolor="black", standoff=0))
anns.append(dict(x=VAR_TEXT_POS[0], y=VAR_TEXT_POS[1], xref="x3", yref="y3", text="<b>%s</b>" % ANNOT_TEXT,
                 showarrow=False, font=dict(family=FONT, size=19, color="black")))
anns.append(dict(x=px_x(567), y=px_y(46), xref="paper", yref="paper", xanchor="left", yanchor="middle",
                 text="<b>%s</b>" % CBAR_TITLE, showarrow=False, font=dict(family=FONT, size=13, color="black")))
fig.update_layout(annotations=anns)

# remove the browser's default 8px body margin so the figure fills the window
fig.write_html("out.html", config={"displayModeBar": False},
               post_script="document.body.style.margin='0';document.body.style.overflow='hidden';")
